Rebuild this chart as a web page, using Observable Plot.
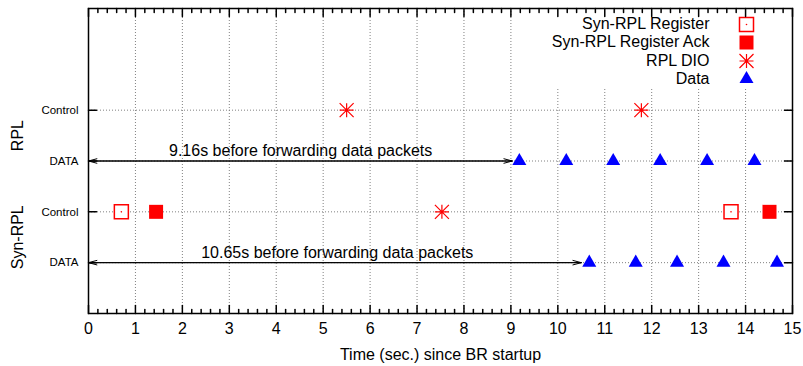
<!DOCTYPE html>
<html>
<head>
<meta charset="utf-8">
<script src="https://cdn.jsdelivr.net/npm/d3@7"></script>
<script src="https://cdn.jsdelivr.net/npm/@observablehq/plot@0.6"></script>
<style>
  html, body { margin: 0; padding: 0; background: #fff; }
</style>
</head>
<body>
<div id="chart"></div>
<script>
// ---- data ----
const rowLabels = ["DATA", "Control", "DATA", "Control"];   // y = 1..4
const rowValues = [1, 2, 3, 4];
const groupNames = ["RPL", "Syn-RPL"];
const groupY = [3.5, 1.5];

const rplDio = [5.5, 11.78];             // row 4
const synDio = [7.53];                   // row 2
const synRegister = [0.7, 13.69];        // row 2
const synRegisterAck = [1.44, 14.51];    // row 2
const rplData = [9.18, 10.18, 11.18, 12.18, 13.18, 14.19];  // row 3
const synData = [10.67, 11.66, 12.54, 13.53, 14.67];        // row 1

const annoText = ["9.16s before forwarding data packets", "10.65s before forwarding data packets"];
const annoEnd = [9.03, 10.5];
const annoLabelX = [4.52, 5.3];
const annoRow = [3, 1];

const legendNames = ["Syn-RPL Register", "Syn-RPL Register Ack", "RPL DIO", "Data"];

const xMajor = d3.range(0, 16, 1);
const xMinor = d3.range(0, 75).map(i => i * 0.2).filter(v => Math.abs(v - Math.round(v)) > 1e-6);
const xGrid = d3.range(1, 15, 1);

// ---- styles ----
const RED = "#ff0000", BLUE = "#0000ff";
const gridStyle = {stroke: "#808080", strokeDasharray: "1,2", strokeWidth: 1};

const asterisk = {
  draw(ctx, size) {
    const h = Math.sqrt(size / Math.PI);
    ctx.moveTo(-h, 0); ctx.lineTo(h, 0);
    ctx.moveTo(0, -h); ctx.lineTo(0, h);
    ctx.moveTo(-h, -h); ctx.lineTo(h, h);
    ctx.moveTo(-h, h); ctx.lineTo(h, -h);
  }
};
const tickLine = {draw(ctx, l) { ctx.moveTo(0, 0); ctx.lineTo(0, -l); }};

const rows = (arr, row) => arr.map(t => ({t, row}));
const annos = annoText.map((text, i) => ({text, end: annoEnd[i], lx: annoLabelX[i], row: annoRow[i]}));

const squareR = 14 / Math.sqrt(Math.PI);
const triR = 5.2;

const legendSymbols = [
  {symbol: "square", fill: "white", stroke: RED, strokeWidth: 1.5, r: squareR},
  {symbol: "square", fill: RED, stroke: null, r: squareR},
  {symbol: asterisk, fill: "none", stroke: RED, strokeWidth: 1.2, r: 7},
  {symbol: "triangle", fill: BLUE, stroke: null, r: triR}
];
const legendDy = [15.5, 33.5, 52, 70.5];

const legendMarks = [];
legendNames.forEach((name, i) => {
  legendMarks.push(Plot.text([name], {
    text: d => d, frameAnchor: "top-right", dx: -83, dy: legendDy[i],
    textAnchor: "end", lineAnchor: "middle", fontSize: 16, fill: "black"
  }));
  const s = legendSymbols[i];
  legendMarks.push(Plot.dot([0], {frameAnchor: "top-right", dx: -46, dy: legendDy[i] + (i === 3 ? 0 : 0.5), ...s}));
  if (i === 0) legendMarks.push(Plot.dot([0], {frameAnchor: "top-right", dx: -46, dy: legendDy[i] + 0.5, r: 0.8, fill: RED}));
});

const chart = Plot.plot({
  width: 803,
  height: 366,
  marginLeft: 88,
  marginRight: 11,
  marginTop: 8,
  marginBottom: 53,
  style: {fontFamily: "'Liberation Sans', Arial, Helvetica, sans-serif", fontSize: "16px", background: "white", color: "black"},
  x: {domain: [0, 15], label: null},
  y: {domain: [0, 6], label: null},
  marks: [
    // grid
    Plot.ruleX(xGrid, gridStyle),
    Plot.ruleY(rowValues, gridStyle),
    // legend background
    Plot.rect([0], {fill: "white", insetLeft: 452, insetBottom: 225}),
    // annotations
    Plot.arrow(annos, {x1: 0, x2: "end", y1: "row", y2: "row", stroke: "black", strokeWidth: 1, headLength: 13, headAngle: 30}),
    Plot.arrow(annos, {x1: "end", x2: 0, y1: "row", y2: "row", stroke: "black", strokeWidth: 1, headLength: 13, headAngle: 30}),
    Plot.text(annos, {x: "lx", y: "row", text: "text", dy: -10, lineAnchor: "middle", fontSize: 16, fill: "black"}),
    // data
    Plot.dot(rows(synRegister, 2), {x: "t", y: "row", symbol: "square", r: squareR, fill: "white", stroke: RED, strokeWidth: 1.5}),
    Plot.dot(rows(synRegister, 2), {x: "t", y: "row", r: 0.8, fill: RED}),
    Plot.dot(rows(synRegisterAck, 2), {x: "t", y: "row", symbol: "square", r: squareR, fill: RED}),
    Plot.dot([...rows(rplDio, 4), ...rows(synDio, 2)], {x: "t", y: "row", symbol: asterisk, r: 7, stroke: RED, strokeWidth: 1.2}),
    Plot.dot([...rows(rplData, 3), ...rows(synData, 1)], {x: "t", y: "row", symbol: "triangle", r: triR, fill: BLUE}),
    // legend
    ...legendMarks,
    // axes labels
    Plot.axisX({ticks: xMajor, tickSize: 0, tickPadding: 9, fontSize: 16, tickFormat: d => String(d), label: null}),
    Plot.axisY({ticks: rowValues, tickSize: 0, tickPadding: 10, fontSize: 11.5, tickFormat: (d, i) => rowLabels[rowValues.indexOf(d)], label: null}),
    Plot.text(groupNames, {y: (d, i) => groupY[i], text: d => d, frameAnchor: "left", dx: -70.5, rotate: -90, textAnchor: "middle", lineAnchor: "middle", fontSize: 16, fill: "black"}),
    Plot.text(["Time (sec.) since BR startup"], {text: d => d, frameAnchor: "bottom", dy: 41, lineAnchor: "middle", fontSize: 16, fill: "black"}),
    // inward ticks
    Plot.vector(xMajor, {x: d => d, frameAnchor: "bottom", length: 8, rotate: 0, anchor: "start", shape: tickLine, stroke: "black"}),
    Plot.vector(xMinor, {x: d => d, frameAnchor: "bottom", length: 4, rotate: 0, anchor: "start", shape: tickLine, stroke: "black"}),
    Plot.vector(xMajor, {x: d => d, frameAnchor: "top", length: 8, rotate: 180, anchor: "start", shape: tickLine, stroke: "black"}),
    Plot.vector(xMinor, {x: d => d, frameAnchor: "top", length: 4, rotate: 180, anchor: "start", shape: tickLine, stroke: "black"}),
    Plot.vector(rowValues, {y: d => d, frameAnchor: "left", length: 8, rotate: 90, anchor: "start", shape: tickLine, stroke: "black"}),
    Plot.vector(rowValues, {y: d => d, frameAnchor: "right", length: 8, rotate: -90, anchor: "start", shape: tickLine, stroke: "black"}),
    Plot.frame({stroke: "black", strokeWidth: 1.5})
  ]
});
document.getElementById("chart").appendChild(chart);
</script>
</body>
</html>
